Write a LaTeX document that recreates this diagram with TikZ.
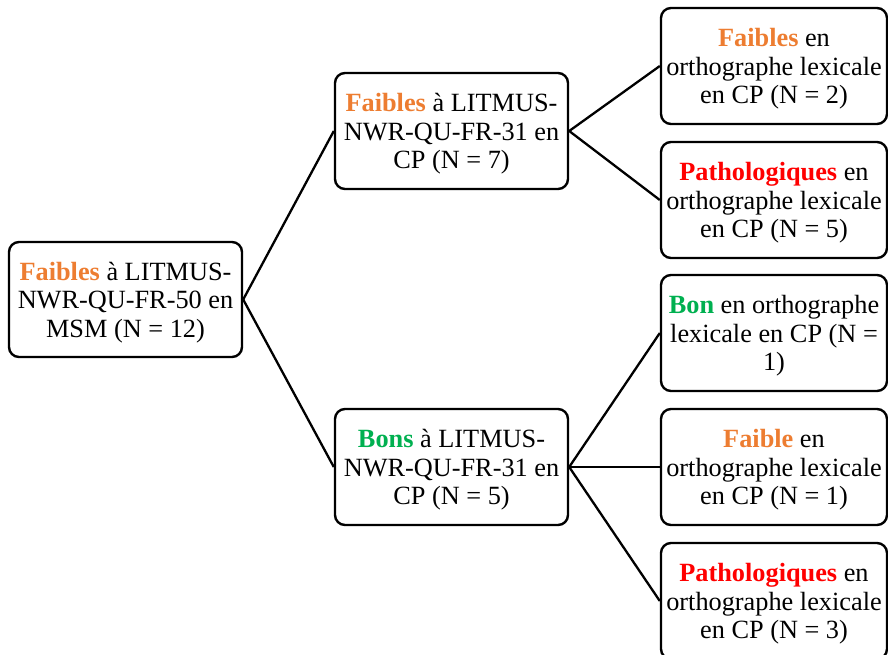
\documentclass[tikz,border=0pt]{standalone}
\usepackage{fontspec}
\setmainfont{Liberation Serif}
\definecolor{weak}{HTML}{ED7D31}
\definecolor{good}{HTML}{00B050}
\definecolor{path}{HTML}{FF0000}
\newcommand{\lab}[2]{\textcolor{#1}{\textbf{#2}}}
\begin{document}
\begin{tikzpicture}[x=1pt,y=-1pt,
  box/.style={draw=black, line width=2.4pt, rounded corners=10pt,
    minimum height=116pt, inner sep=0pt,
    label={[inner sep=0pt, align=center, yshift=-3pt,
      font=\fontsize{26.3}{28.5}\selectfont]center:{#1}}},
  midbox/.style={box={#1}, minimum width=233pt},
  leafbox/.style={box={#1}, minimum width=226pt},
  link/.style={draw=black, line width=2.3pt}]
\useasboundingbox (0,0) rectangle (888,654);

% root of the tree
\node[midbox={\lab{weak}{Faibles} à LITMUS-\\NWR-QU-FR-50 en\\MSM (N = 12)},
  minimum height=115pt] (root) at (125.5,299.5) {};

% second level
\node[midbox={\lab{weak}{Faibles} à LITMUS-\\NWR-QU-FR-31 en\\CP (N = 7)}]
  (m1) at (451.5,131) {};
\node[midbox={\lab{good}{Bons} à LITMUS-\\NWR-QU-FR-31 en\\CP (N = 5)}]
  (m2) at (451.5,467) {};

% leaves
\node[leafbox={\lab{weak}{Faibles} en\\orthographe lexicale\\en CP (N = 2)}]
  (r1) at (774,66) {};
\node[leafbox={\lab{path}{Pathologiques} en\\orthographe lexicale\\en CP (N = 5)}]
  (r2) at (774,200) {};
\node[leafbox={\lab{good}{Bon} en orthographe\\lexicale en CP (N =\\1)}]
  (r3) at (774,333) {};
\node[leafbox={\lab{weak}{Faible} en\\orthographe lexicale\\en CP (N = 1)}]
  (r4) at (774,467) {};
\node[leafbox={\lab{path}{Pathologiques} en\\orthographe lexicale\\en CP (N = 3)}]
  (r5) at (774,601) {};

% connectors
\draw[link] (root.east) -- (m1.west);
\draw[link] (root.east) -- (m2.west);
\draw[link] (m1.east) -- (r1.west);
\draw[link] (m1.east) -- (r2.west);
\draw[link] (m2.east) -- (r3.west);
\draw[link] (m2.east) -- (r4.west);
\draw[link] (m2.east) -- (r5.west);
\end{tikzpicture}
\end{document}
